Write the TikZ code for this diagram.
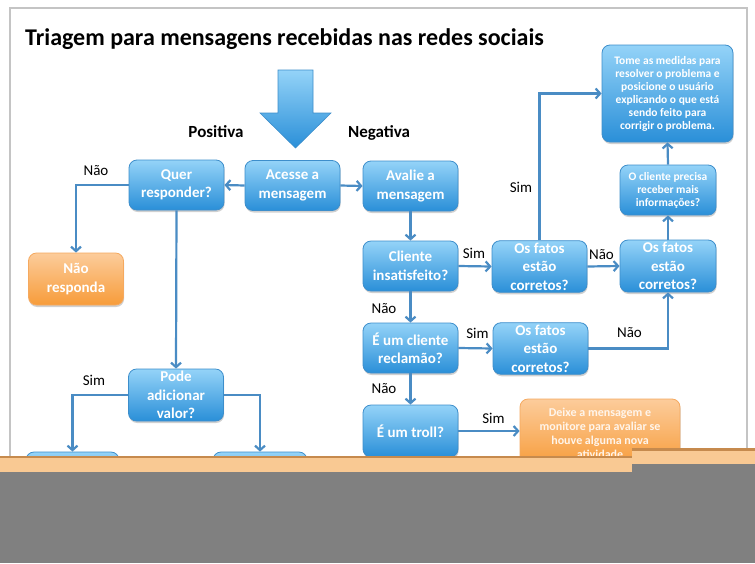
\documentclass[tikz,border=0pt]{standalone}
\usepackage{fontspec}
\setmainfont{Carlito}
\usetikzlibrary{arrows.meta,shadows}
\definecolor{conncol}{HTML}{4A8CC4}
\definecolor{btop}{HTML}{94D3F8}
\definecolor{bbot}{HTML}{2A8FD8}
\definecolor{bline}{HTML}{3D8ECB}
\definecolor{otop}{HTML}{FCCC9B}
\definecolor{obot}{HTML}{F79C3A}
\definecolor{oline}{HTML}{F5A95F}
\definecolor{framec}{HTML}{C4C4C4}
\definecolor{tanc}{HTML}{F9C993}
\definecolor{darkt}{HTML}{C68A4D}
\definecolor{grayc}{HTML}{808080}
\begin{document}
\begin{tikzpicture}[x=1pt,y=-1pt,
  bbox/.style={draw=bline, line width=0.8pt, rounded corners=8pt,
    top color=btop, bottom color=bbot, text=white,
    font=\bfseries\fontsize{15}{18.5}\selectfont, align=center,
    minimum width=95pt, minimum height=50pt, inner sep=2pt,
    drop shadow={shadow xshift=0.6pt, shadow yshift=-2pt, opacity=0.3, fill=black!60}},
  obox/.style={bbox, draw=oline, top color=otop, bottom color=obot},
  smalltxt/.style={font=\bfseries\fontsize{11.5}{13}\selectfont},
  conn/.style={draw=conncol, line width=2.2pt, -{Straight Barb[length=4.5pt,width=10pt]}},
  lbl/.style={font=\fontsize{15}{18}\selectfont, text=black, inner sep=0pt}
]
\useasboundingbox (0,0) rectangle (755,563);
\fill[white] (0,0) rectangle (755,563);
\draw[framec, line width=2pt] (10,8) rectangle (747,480);

\node[anchor=base west, inner sep=0pt, font=\bfseries\fontsize{24}{29}\selectfont] (title) at (25,45) {Triagem para mensagens recebidas nas redes sociais};

% big arrow
\shade[top color=btop, bottom color=bbot, draw=bline, line width=0.6pt]
  (278,70) -- (313,70) -- (313,113) -- (331,113) -- (295.5,148) -- (260,113) -- (278,113) -- cycle;

\node[anchor=base, inner sep=0pt, font=\bfseries\fontsize{17}{20}\selectfont] (pos) at (216,137) {Positiva};
\node[anchor=base west, inner sep=0pt, font=\bfseries\fontsize{17}{20}\selectfont] (neg) at (348,137) {Negativa};

% nodes
\node[bbox] (quer) at (176.5,185) {Quer\\responder?};
\node[bbox] (acesse) at (292.5,185.5) {Acesse a\\mensagem};
\node[bbox] (avalie) at (410.5,186) {Avalie a\\mensagem};
\node[obox, minimum height=52pt] (naoresp) at (76,279) {Não\\responda};
\node[bbox, minimum height=52pt] (pode) at (176,395) {Pode\\adicionar\\valor?};
\node[bbox, minimum width=93pt, minimum height=52pt] (bl) at (72.5,478) {};
\node[bbox, minimum width=94pt, minimum height=52pt] (br) at (260,478) {};

\node[bbox, smalltxt, minimum width=131pt, minimum height=97pt] (tome) at (667.5,93.5) {Tome as medidas para\\resolver o problema e\\posicione o usuário\\explicando o que está\\sendo feito para\\corrigir o problema.};
\node[bbox, smalltxt, minimum width=96pt] (ocli) at (668,190) {O cliente precisa\\receber mais\\informações?};
\node[bbox] (cliente) at (410.5,266) {Cliente\\insatisfeito?};
\node[bbox, minimum height=51pt] (fatos1) at (539.5,266.5) {Os fatos\\estão\\corretos?};
\node[bbox, minimum width=96pt, minimum height=52pt] (fatos2) at (668,266) {Os fatos\\estão\\corretos?};
\node[bbox] (recl) at (410.5,348) {É um cliente\\reclamão?};
\node[bbox, minimum height=51pt] (fatos3) at (540.5,348.5) {Os fatos\\estão\\corretos?};
\node[bbox, minimum height=52pt] (troll) at (410.5,431) {É um troll?};
\node[obox, text=white!92!orange, font=\bfseries\fontsize{12}{14}\selectfont, minimum width=160pt, minimum height=68pt] (deixe) at (600,433) {Deixe a mensagem e\\monitore para avaliar se\\houve alguma nova\\atividade};

% connectors
\draw[conn] (acesse.west) -- (quer.east);
\draw[conn] (acesse.east) -- (avalie.west);
\draw[conn] (quer.west) -| (naoresp.north);
\draw[conn] (quer.south) -- (pode.north);
\draw[conn] (pode.west) -| (bl.north);
\draw[conn] (pode.east) -| (br.north);
\draw[conn] (avalie.south) -- (cliente.north);
\draw[conn] (cliente.east) -- (fatos1.west);
\draw[conn] (fatos1.east) -- (fatos2.west);
\draw[conn] (fatos2.north) -- (ocli.south);
\draw[conn] (ocli.north) -- (tome.south);
\draw[conn] (fatos1.north) |- (tome.west);
\draw[conn] (cliente.south) -- (recl.north);
\draw[conn] (recl.east) -- (fatos3.west);
\draw[conn] (fatos3.east) -| (fatos2.south);
\draw[conn] (recl.south) -- (troll.north);
\draw[conn] (troll.east) -- (deixe.west |- troll.east);

% labels
\node[lbl] (l1) at (96,170.5) {Não};
\node[lbl] (l2) at (94,380.5) {Sim};
\node[lbl] (l3) at (521,187) {Sim};
\node[lbl] (l4) at (474,253.5) {Sim};
\node[lbl] (l5) at (601.5,254.5) {Não};
\node[lbl] (l6) at (384,308.5) {Não};
\node[lbl] (l7) at (477.5,333) {Sim};
\node[lbl] (l8) at (629.5,333) {Não};
\node[lbl] (l9) at (384,389) {Não};
\node[lbl] (l10) at (493.5,418) {Sim};

% bottom glitch overlay
\fill[tanc] (0,456) rectangle (632,471.5);
\fill[darkt] (0,455.5) rectangle (632,458);
\fill[grayc] (0,471.5) rectangle (755,563);
\fill[tanc] (632,448) rectangle (755,464);
\fill[darkt] (632,448) rectangle (755,450.5);
\fill[grayc] (632,464) rectangle (755,563);
\end{tikzpicture}
\end{document}
